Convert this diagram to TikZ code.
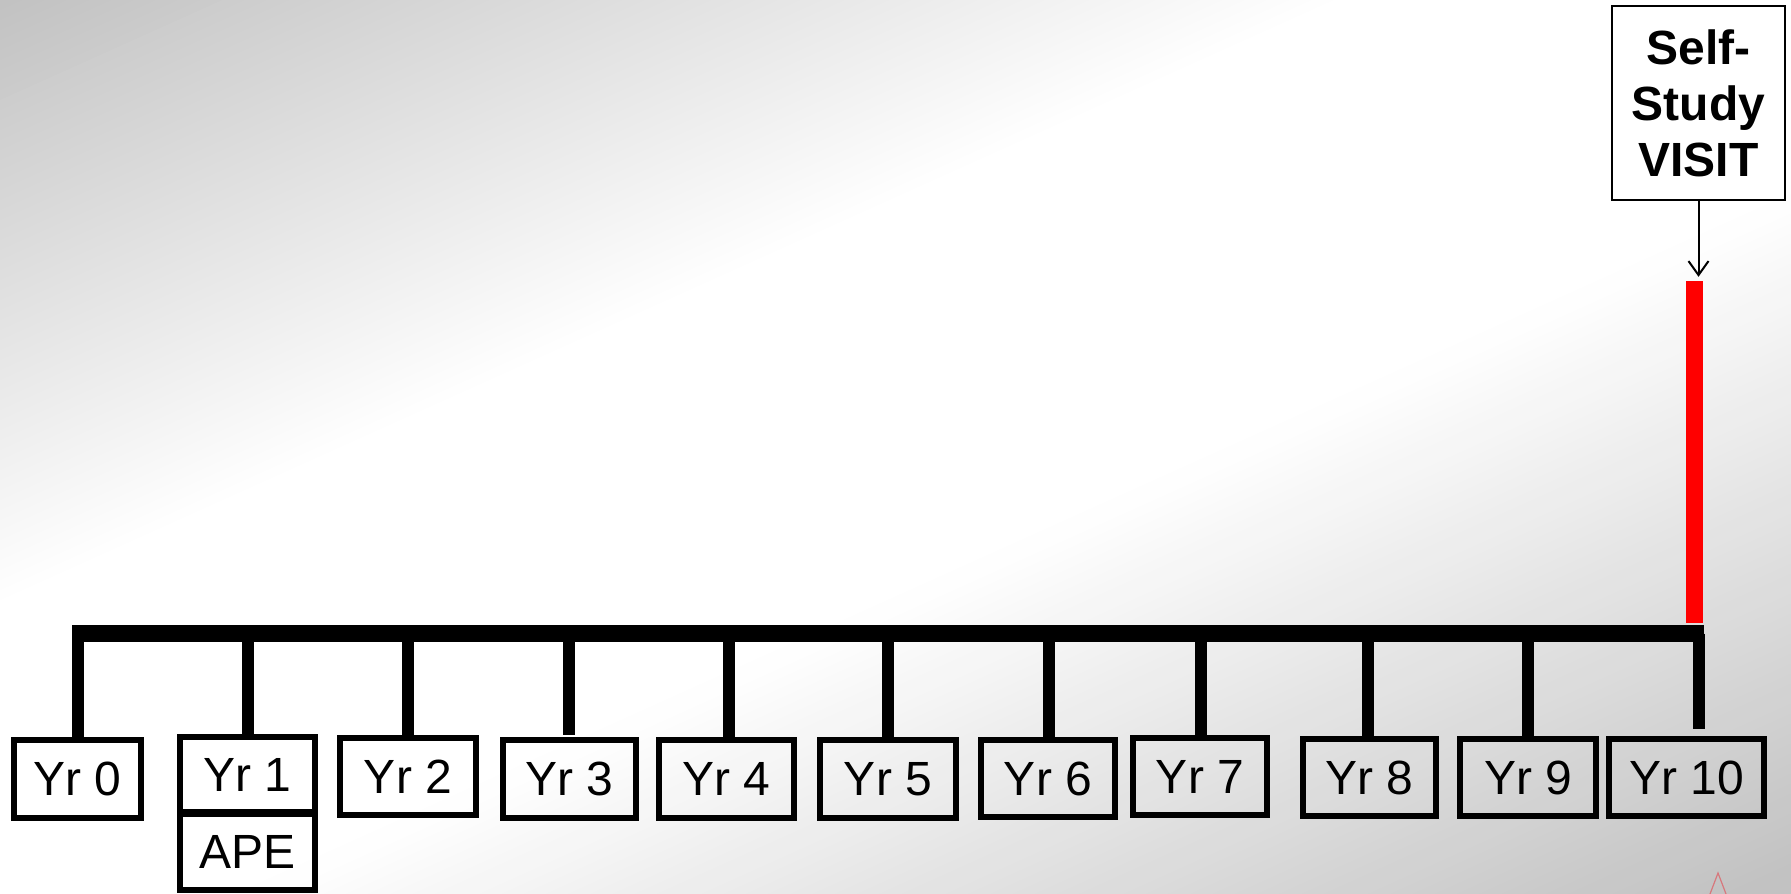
\documentclass[tikz,border=0pt]{standalone}
\usepackage{fontspec}
\setmainfont{Liberation Sans}
\usetikzlibrary{arrows.meta}
\definecolor{logored}{RGB}{215,120,125}
\tikzset{
  yrbox/.style={draw=black, line width=6pt, inner sep=0pt, font=\fontsize{48}{56}\selectfont},
  stemline/.style={line width=12pt, black},
  barline/.style={line width=17pt, black},
}
\begin{document}
\begin{tikzpicture}[x=1pt,y=-1pt]
\useasboundingbox (0,0) rectangle (1791,894);
% background: diagonal grey-white-grey gradient
\begin{scope}
\clip (0,0) rectangle (1791,894);
\foreach \s in {0,10,...,1700}{
  \pgfmathsetmacro\m{\s+5}
  \pgfmathsetmacro\v{(\m<600)?(0.76+0.24*\m/600):((\m<1000)?1:max(0.76,1-0.24*(\m-1000)/680))}
  \definecolor{bgtmp}{gray}{\v}
  \fill[bgtmp] (0,\s) -- (1791,\s-806) -- (1791,\s+11-806) -- (0,\s+11) -- cycle;
}
\end{scope}

% boxes
\node[yrbox, minimum width=127pt, minimum height=78pt] (y0) at (77.5,779) {Yr 0};
\node[yrbox, minimum width=135pt, minimum height=75pt] (y1) at (247.5,774.5) {Yr 1};
\node[yrbox, minimum width=135pt, minimum height=76pt] (ape) at (247.5,852) {APE};
\node[yrbox, minimum width=136pt, minimum height=77pt] (y2) at (408,776.5) {Yr 2};
\node[yrbox, minimum width=133pt, minimum height=78pt] (y3) at (569.5,779) {Yr 3};
\node[yrbox, minimum width=135pt, minimum height=78pt] (y4) at (726.5,779) {Yr 4};
\node[yrbox, minimum width=136pt, minimum height=78pt] (y5) at (888,779) {Yr 5};
\node[yrbox, minimum width=134pt, minimum height=77pt] (y6) at (1048,778.5) {Yr 6};
\node[yrbox, minimum width=134pt, minimum height=77pt] (y7) at (1200,776.5) {Yr 7};
\node[yrbox, minimum width=133pt, minimum height=77pt] (y8) at (1369.5,777.5) {Yr 8};
\node[yrbox, minimum width=136pt, minimum height=77pt] (y9) at (1528,777.5) {Yr 9};
\node[yrbox, minimum width=155pt, minimum height=77pt] (y10) at (1686.5,777.5) {Yr 10};

% bar
\coordinate (barL) at (72,633.5);
\coordinate (barR) at (1704,633.5);
\draw[barline] (barL) -- (barR);

% stems
\foreach \x/\b in {77.5/740, 248/737, 408/738, 568.5/735, 728.5/740, 888/740, 1048.5/740, 1200.5/738, 1368/739, 1528/739, 1698.5/729}
  \draw[stemline] (\x,633.5) -- (\x,\b);

% red bar
\node[fill=red, inner sep=0pt, minimum width=17pt, minimum height=342pt] (red) at (1694.5,452) {};

% self-study box
\node[draw=black, line width=2pt, minimum width=173pt, minimum height=194pt, align=center, inner sep=0pt,
      font=\bfseries\fontsize{48}{56}\selectfont] (ss) at (1698.5,103) {Self-\\Study\\VISIT};
\draw[line width=2pt, -{Straight Barb[length=14pt,width=20pt]}, shorten >=4pt] (ss.south) -- (ss.south |- red.north);

% partial logo
\draw[logored, line width=1.2pt] (1710,894) -- (1718,873) -- (1726,894);
\end{tikzpicture}
\end{document}
